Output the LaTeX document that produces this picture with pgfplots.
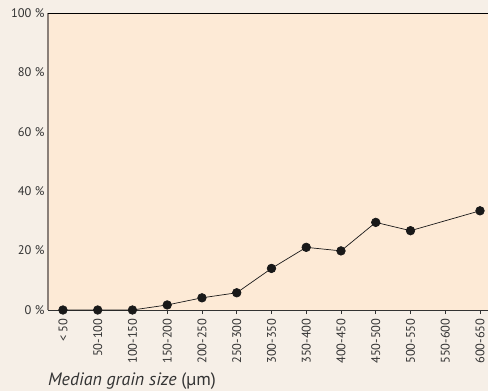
\documentclass[border=0pt]{standalone}
\usepackage{pgfplots}
\pgfplotsset{compat=1.18}
\usepackage{fontspec}
\setmainfont{PT Sans}
\definecolor{pagebg}{HTML}{F6EFE7}
\definecolor{plotbg}{HTML}{FDEAD6}
\definecolor{yline}{HTML}{8A7F78}
\definecolor{ticktxt}{HTML}{333333}
\begin{document}
\begin{tikzpicture}
% page background, sets the bounding box
\fill[pagebg] (0,0) rectangle (488bp,391bp);
\path[use as bounding box] (0,0) rectangle (488bp,391bp);
\begin{axis}[
  at={(48bp,81bp)}, anchor=south west,
  scale only axis, width=440bp, height=297bp,
  xmin=-0.43, xmax=12.23, ymin=0, ymax=100,
  axis background/.style={fill=plotbg},
  axis line style={draw=none},
  xtick={0,...,12},
  xticklabels={{< 50},50-100,100-150,150-200,200-250,250-300,300-350,350-400,400-450,450-500,500-550,550-600,600-650},
  x tick label style={rotate=90, anchor=east, font=\fontsize{12.5}{14}\selectfont, text=ticktxt, xshift=-1bp},
  xtick pos=bottom, xtick align=outside, major tick length=4bp,
  xtick style={draw=ticktxt, line width=0.6pt},
  ytick={0,20,...,100},
  yticklabel={\pgfmathprintnumber{\tick} \%},
  y tick label style={font=\fontsize{12.5}{14}\selectfont, text=ticktxt},
  /pgf/number format/assume math mode=true,
  ytick style={draw=none},
  clip=false,
]
  % frame
  \draw[yline, line width=1.5pt] (rel axis cs:0,0) -- (rel axis cs:0,1);
  \draw[ticktxt, line width=0.8pt] (rel axis cs:0,0) -- (rel axis cs:1,0);
  \draw[black, line width=0.8pt] (rel axis cs:0,1) -- (rel axis cs:1,1);
  % data (550-600 has no value)
  \addplot[black!90, line width=0.7pt, mark=*, mark size=4.3pt, mark options={fill=black!90}]
    coordinates {(0,0) (1,0) (2,0) (3,1.7) (4,4.1) (5,5.8) (6,14.0) (7,21.1) (8,19.9) (9,29.5) (10,26.7) (12,33.4)};
\end{axis}
\node[anchor=base west, inner sep=0pt, text=ticktxt, font=\fontsize{18}{20}\selectfont] at (48bp,6bp) {\textit{Median grain size} (µm)};
\end{tikzpicture}
\end{document}
